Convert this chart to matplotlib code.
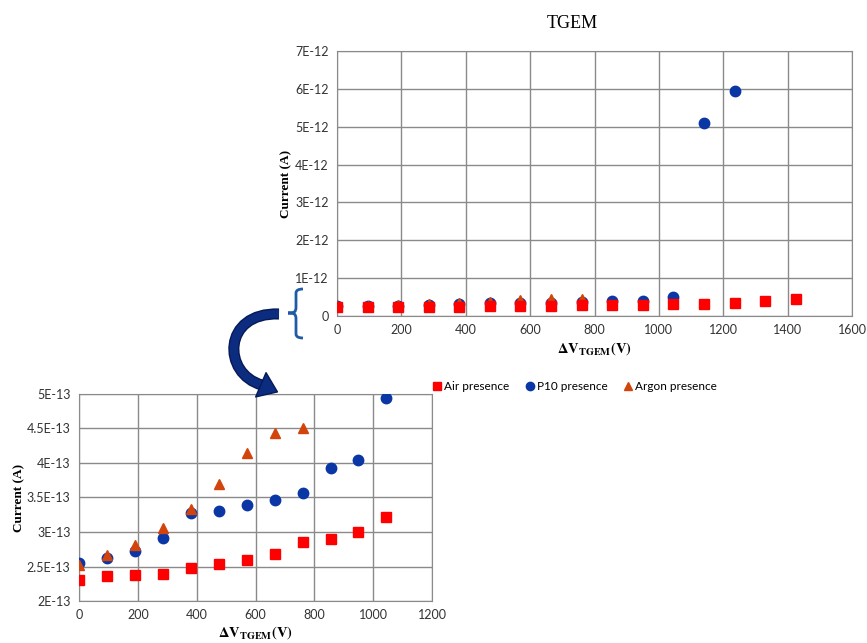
import matplotlib
matplotlib.use("Agg")
import matplotlib.pyplot as plt
from matplotlib.patches import FancyArrowPatch, PathPatch
from matplotlib.path import Path
from matplotlib.ticker import FuncFormatter, MultipleLocator
from matplotlib.lines import Line2D

plt.rcParams['font.family'] = ['Lato', 'DejaVu Sans']
plt.rcParams['mathtext.fontset'] = 'stix'

# voltage steps (V)
volt = [0, 95, 190, 285, 380, 475, 570, 665, 760, 855, 950, 1045, 1140, 1235, 1330, 1425]

# currents in units of 1E-13 A
air = [2.30, 2.36, 2.37, 2.39, 2.48, 2.53, 2.60, 2.68, 2.85, 2.90, 3.00, 3.22, 3.25, 3.55, 4.00, 4.50]
p10 = [2.55, 2.62, 2.72, 2.92, 3.28, 3.30, 3.39, 3.46, 3.57, 3.93, 4.04, 4.94, 51.0, 59.5]
argon = [2.52, 2.67, 2.81, 3.06, 3.34, 3.70, 4.14, 4.43, 4.50]

labels = ['Air presence', 'P10 presence', 'Argon presence']
c_air = '#ff0000'
c_p10 = '#0a36a6'
c_arg = '#d2440c'
grid_c = '#8a8a8a'

fig = plt.figure(figsize=(8.67, 6.43), dpi=100)


def style(ax):
    ax.grid(True, color=grid_c, lw=1.0)
    ax.set_axisbelow(True)
    for s in ax.spines.values():
        s.set_color(grid_c)
    ax.tick_params(length=0, labelsize=9, pad=6, colors='#333333')


def plot_series(ax, n_air, n_p10, n_arg, ms):
    ax.plot(volt[:n_p10], [v * 1e-13 for v in p10[:n_p10]], 'o', color=c_p10, ms=ms, zorder=3)
    ax.plot(volt[:n_arg], [v * 1e-13 for v in argon[:n_arg]], '^', color=c_arg, ms=ms, zorder=4)
    ax.plot(volt[:n_air], [v * 1e-13 for v in air[:n_air]], 's', color=c_air, ms=ms - 1, zorder=5)


# ---- top chart
ax1 = fig.add_axes([0.3887, 0.5086, 0.594, 0.412])
style(ax1)
plot_series(ax1, len(air), len(p10), len(argon), 7.5)
ax1.set_xlim(0, 1600)
ax1.set_ylim(0, 7e-12)
ax1.xaxis.set_major_locator(MultipleLocator(200))
ax1.yaxis.set_major_locator(MultipleLocator(1e-12))
ax1.yaxis.set_major_formatter(FuncFormatter(lambda v, p: '0' if v == 0 else f'{round(v * 1e12):d}E-12'))
ax1.set_ylabel('Current (A)', fontsize=9.5, fontweight='bold', labelpad=2, fontname='Liberation Serif')
ax1.set_xlabel(r'$\mathbf{\Delta V_{TGEM}(V)}$', fontsize=10.5, labelpad=3)
fig.text(572 / 867, 1 - 23 / 643, 'TGEM', ha='center', va='center', fontsize=13,
         fontname='Liberation Serif')

# ---- bottom chart (zoom of the low part)
ax2 = fig.add_axes([0.0911, 0.0653, 0.4072, 0.322])
style(ax2)
plot_series(ax2, 12, 12, len(argon), 7.5)
ax2.set_xlim(0, 1200)
ax2.set_ylim(2e-13, 5e-13)
ax2.xaxis.set_major_locator(MultipleLocator(200))
ax2.yaxis.set_major_locator(MultipleLocator(0.5e-13))
ax2.yaxis.set_major_formatter(FuncFormatter(lambda v, p: f'{v * 1e13:g}E-13'))
ax2.set_ylabel('Current (A)', fontsize=9.5, fontweight='bold', labelpad=1, fontname='Liberation Serif')
ax2.set_xlabel(r'$\mathbf{\Delta V_{TGEM}(V)}$', fontsize=10.5, labelpad=2)

# ---- legend
handles = [Line2D([], [], ls='', marker='s', color=c_air, ms=6),
           Line2D([], [], ls='', marker='o', color=c_p10, ms=6),
           Line2D([], [], ls='', marker='^', color=c_arg, ms=6)]
fig.legend(handles, labels, loc='center', bbox_to_anchor=(574 / 867, 1 - 387 / 643), ncol=3,
           frameon=False, fontsize=8.5, handletextpad=0.1, columnspacing=1.2, handlelength=1.0)

# ---- brace next to the low part of the top chart
H = 643.0
W = 867.0


def fp(x, y):
    return (x / W, 1 - y / H)


bx, top_y, mid_y, bot_y = 303, 289, 313, 338
verts = [fp(bx, top_y), fp(296, top_y), fp(296, top_y + 4), fp(296, mid_y - 6),
         fp(296, mid_y), fp(293, mid_y), fp(288, mid_y),
         fp(293, mid_y), fp(296, mid_y), fp(296, mid_y + 6),
         fp(296, bot_y - 4), fp(296, bot_y), fp(bx, bot_y)]
codes = [Path.MOVETO, Path.CURVE3, Path.CURVE3, Path.LINETO,
         Path.CURVE4, Path.CURVE4, Path.CURVE4,
         Path.CURVE4, Path.CURVE4, Path.CURVE4,
         Path.LINETO, Path.CURVE3, Path.CURVE3]
fig.patches.append(PathPatch(Path(verts, codes), transform=fig.transFigure, fill=False,
                             edgecolor='#1f5aa6', lw=2.0))

# ---- curved arrow (C shape, from the brace down to the zoomed chart)
body = Path([fp(279, 314), fp(222, 312), fp(222, 374), fp(262, 385)],
            [Path.MOVETO, Path.CURVE4, Path.CURVE4, Path.CURVE4])
fig.patches.append(PathPatch(body, transform=fig.transFigure, fill=False,
                             edgecolor='#061a55', lw=8.0, capstyle='butt'))
fig.patches.append(PathPatch(body, transform=fig.transFigure, fill=False,
                             edgecolor='#0c2c80', lw=6.0, capstyle='butt'))
head = FancyArrowPatch(fp(259, 384), fp(280, 393), transform=fig.transFigure,
                       arrowstyle='simple,head_width=1.9,head_length=1.3,tail_width=0.75',
                       mutation_scale=10, facecolor='#0c2c80', edgecolor='#061a55', lw=1)
fig.patches.append(head)

fig.savefig('out.png', dpi=100)
